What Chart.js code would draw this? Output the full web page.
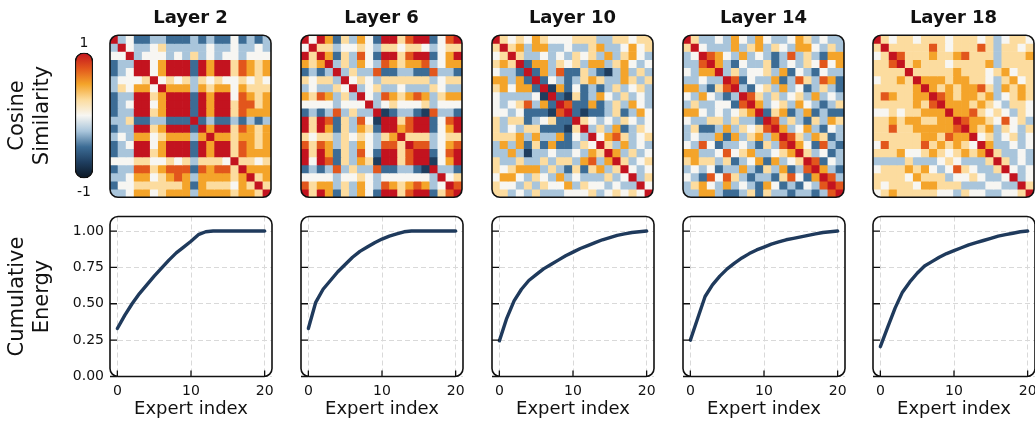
<!DOCTYPE html>
<html>
<head>
<meta charset="utf-8">
<script src="https://cdn.jsdelivr.net/npm/chart.js@4.4.1/dist/chart.umd.min.js"></script>
<style>
  body { margin: 0; background: #fff; width: 1035px; height: 422px; overflow: hidden; position: relative; }
  canvas { position: absolute; }
</style>
</head>
<body>
<script>
// ---- data ----
const layerNames = ['Layer 2', 'Layer 6', 'Layer 10', 'Layer 14', 'Layer 18'];
const experts = [0, 1, 2, 3, 4, 5, 6, 7, 8, 9, 10, 11, 12, 13, 14, 15, 16, 17, 18, 19];
const expertIndex = [0, 1, 2, 3, 4, 5, 6, 7, 8, 9, 10, 11, 12, 13, 14, 15, 16, 17, 18, 19, 20];
const expertTicks = [0, 10, 20];
const energyTicks = [0, 0.25, 0.5, 0.75, 1];

// cosine similarity, one digit per cell: 1 = -1 ... 5 = 0 ... 9 = +1
// '.' = mirror of the upper triangle (matrix is symmetric)
const layer2Sim = [
  '94533443334343353434',
  '49544564444454454454',
  '55945554546454554555',
  '34499579993979968767',
  '34599579993979968767',
  '45556956564656556565',
  '46577597774767757666',
  '34499679993979958767',
  '34599579993979968867',
  '34499679993979968777',
  '44633443339343343434',
  '34499679993979968767',
  '45477567774797767767',
  '34599579993979968767',
  '34499679993979968777',
  '55566556564666596656',
  '34488678883878869777',
  '44577567874777767967',
  '35566666673766657696',
  '44577567774777767769'
];
const layer6Sim = [
  '95973647539968993589',
  '59664556546656654566',
  '96973648539968993579',
  '76794647548767784577',
  '34349464483344338443',
  '65664956546666664566',
  '45446594564454446544',
  '76874649548767874677',
  '55554555945655564555',
  '34348464492344328443',
  '96983648529968993589',
  '96973647639978993579',
  '65664656546796664566',
  '86874647548869884578',
  '96973648539968993589',
  '95983647629968992579',
  '34348464483344329443',
  '55554556545555554956',
  '86774647548767874598',
  '96973647539968993689'
];
const layer10Sim = [
  '96565765556664466566',
  '.9674774454467445756',
  '..964454546564746754',
  '...93774656477467545',
  '....9374833643247464',
  '.....935434676447646',
  '......92735343464564',
  '.......9326347546454',
  '........983373464754',
  '.........93233463475',
  '..........9654546545',
  '...........946473465',
  '............95786456',
  '.............9647454',
  '..............974645',
  '...............96456',
  '................9545',
  '.................946',
  '..................95',
  '...................9'
];
const layer14Sim = [
  '96445475475445764544',
  '.9544474674654775464',
  '..987547454348464377',
  '...97435446345465857',
  '....9464556473543544',
  '.....983544734864873',
  '......94356474534643',
  '.......9864645647454',
  '........974564754346',
  '.........93673473433',
  '..........9846436476',
  '...........974574354',
  '............98647634',
  '.............9753843',
  '..............964534',
  '...............98354',
  '................9743',
  '.................984',
  '..................98',
  '...................9'
];
const layer18Sim = [
  '96566566656665645665',
  '.9666668656668646656',
  '..986667667866646667',
  '...96766656666746666',
  '....9666667666567566',
  '.....977767766546756',
  '......97676778647676',
  '.......9876776745676',
  '........977767654665',
  '.........97786565465',
  '..........9877658564',
  '...........976746546',
  '............95645645',
  '.............9744545',
  '..............964454',
  '...............96454',
  '................9545',
  '.................945',
  '..................96',
  '...................9'
];

const energy2  = [0.33, 0.42, 0.50, 0.57, 0.63, 0.69, 0.745, 0.80, 0.85, 0.89, 0.93, 0.975, 0.995, 1.0, 1.0, 1.0, 1.0, 1.0, 1.0, 1.0, 1.0];
const energy6  = [0.33, 0.51, 0.60, 0.66, 0.72, 0.77, 0.82, 0.86, 0.89, 0.92, 0.945, 0.965, 0.98, 0.995, 1.0, 1.0, 1.0, 1.0, 1.0, 1.0, 1.0];
const energy10 = [0.245, 0.40, 0.52, 0.60, 0.66, 0.70, 0.74, 0.77, 0.80, 0.83, 0.855, 0.88, 0.90, 0.92, 0.94, 0.955, 0.97, 0.98, 0.99, 0.995, 1.0];
const energy14 = [0.25, 0.40, 0.55, 0.63, 0.69, 0.74, 0.78, 0.815, 0.845, 0.87, 0.89, 0.91, 0.925, 0.94, 0.95, 0.96, 0.97, 0.98, 0.99, 0.995, 1.0];
const energy18 = [0.205, 0.34, 0.47, 0.58, 0.65, 0.71, 0.76, 0.79, 0.82, 0.845, 0.865, 0.885, 0.905, 0.92, 0.935, 0.95, 0.965, 0.975, 0.985, 0.995, 1.0];

const simLayers = [layer2Sim, layer6Sim, layer10Sim, layer14Sim, layer18Sim];
const energyLayers = [energy2, energy6, energy10, energy14, energy18];

// colormap
const simStops  = [-1, -0.75, -0.5, -0.25, 0, 0.25, 0.5, 0.75, 1];
const simColors = ['#0b1622', '#1e3d5e', '#3c6c95', '#a9c5db', '#f7f6f2', '#fcdc9f', '#f4a42a', '#e2561c', '#c3131f'];

// ---- layout ----
const panelLeft = [110, 301, 492, 683, 873];
const INK = '#111';
const LINE = '#1f3a5c';

Chart.defaults.font.family = '"DejaVu Sans", sans-serif';
Chart.defaults.color = INK;
Chart.defaults.animation = false;

function simValue(rows, i, j) {
  let ch = rows[i][j];
  if (ch === '.' || ch === undefined) ch = rows[j][i];
  return (Number(ch) - 5) / 4;
}
function colorFor(v) {
  return simColors[Math.round((v + 1) * 4)];
}

function addCanvas(left, top, w, h) {
  const c = document.createElement('canvas');
  c.width = w; c.height = h;
  c.style.left = left + 'px'; c.style.top = top + 'px';
  c.style.width = w + 'px'; c.style.height = h + 'px';
  document.body.appendChild(c);
  return c;
}

// rounded frame + clipping + inward ticks
const frame = {
  id: 'frame',
  beforeDatasetsDraw(chart, args, opts) {
    if (!opts.on) return;
    const a = chart.chartArea, c = chart.ctx;
    c.save();
    c.beginPath();
    c.roundRect(a.left, a.top, a.right - a.left, a.bottom - a.top, 8);
    c.clip();
  },
  afterDatasetsDraw(chart, args, opts) {
    if (!opts.on) return;
    chart.ctx.restore();
  },
  afterDraw(chart, args, opts) {
    if (!opts.on) return;
    const a = chart.chartArea, c = chart.ctx;
    c.save();
    c.strokeStyle = INK;
    if (opts.ticks) {
      const xs = chart.scales.x, ys = chart.scales.y;
      c.lineWidth = 1.3;
      c.beginPath();
      expertTicks.forEach(v => {
        const px = xs.getPixelForValue(v);
        c.moveTo(px, a.bottom); c.lineTo(px, a.bottom - 6);
      });
      energyTicks.forEach(v => {
        const py = ys.getPixelForValue(v);
        c.moveTo(a.left, py); c.lineTo(a.left + 7, py);
      });
      c.stroke();
    }
    c.lineWidth = 1.6;
    c.beginPath();
    c.roundRect(a.left, a.top, a.right - a.left, a.bottom - a.top, 8);
    c.stroke();
    c.restore();
  }
};
Chart.register(frame);

// ---- colorbar ----
function cbarGradient(chart) {
  const y = chart.scales.y;
  if (!y) return simColors[4];
  const y0 = y.getPixelForValue(-1), y1 = y.getPixelForValue(1);
  if (!isFinite(y0) || !isFinite(y1) || y0 === y1) return simColors[4];
  const g = chart.ctx.createLinearGradient(0, y0, 0, y1);
  simStops.forEach((v, k) => g.addColorStop((v + 1) / 2, simColors[k]));
  return g;
}
const hiddenAxis = { grid: { display: false }, border: { display: false }, ticks: { display: false } };
new Chart(addCanvas(0, 30, 100, 172), {
  type: 'bar',
  data: {
    labels: [''],
    datasets: [{
      data: [[-1, 1]],
      backgroundColor: ctx => cbarGradient(ctx.chart),
      borderColor: INK, borderWidth: 1.5, borderRadius: 9, borderSkipped: false,
      barPercentage: 1, categoryPercentage: 1
    }]
  },
  options: {
    responsive: false,
    layout: { padding: { left: 0, right: 7, top: 0, bottom: 0 } },
    plugins: { legend: { display: false }, tooltip: { enabled: false }, frame: { on: false } },
    scales: {
      x: { ...hiddenAxis, position: 'bottom', afterFit: s => { s.height = 23.7; },
           title: { display: true, text: '-1', font: { size: 14 }, padding: { top: 0, bottom: 1.6 } } },
      x2: { ...hiddenAxis, type: 'category', labels: [''], position: 'top', afterFit: s => { s.height = 22.7; },
            title: { display: true, text: '1', font: { size: 14 }, padding: { top: 4.6, bottom: 0 } } },
      y: { ...hiddenAxis, min: -1, max: 1, afterFit: s => { s.width = 75; },
           title: { display: true, text: ['Cosine', 'Similarity'], font: { size: 21, lineHeight: 1.2 }, padding: { top: 5, bottom: 0 } } }
    }
  }
});

// ---- heatmaps ----
simLayers.forEach((rows, k) => {
  const datasets = rows.map((r, i) => ({
    data: experts.map(() => 1),
    backgroundColor: experts.map(j => colorFor(simValue(rows, i, j))),
    borderWidth: 0, barPercentage: 1, categoryPercentage: 1
  }));
  new Chart(addCanvas(panelLeft[k] - 2, 0, 165, 200), {
    type: 'bar',
    data: { labels: experts, datasets },
    options: {
      responsive: false,
      layout: { padding: { left: 2, right: 2, top: 0, bottom: 2.7 } },
      plugins: {
        legend: { display: false }, tooltip: { enabled: false },
        title: { display: true, text: layerNames[k], color: INK, font: { size: 18, weight: 'bold' }, padding: { top: 7.2, bottom: 6.5 } },
        frame: { on: true, ticks: false }
      },
      scales: {
        x: { stacked: true, display: false },
        y: { stacked: true, display: false, reverse: true, min: 0, max: 20 }
      }
    }
  });
});

// ---- cumulative energy ----
energyLayers.forEach((energy, k) => {
  const first = k === 0;
  const gridStyle = { color: '#d9d9d9', lineWidth: 1, drawTicks: false };
  const left = first ? 0 : panelLeft[k] - 2;
  const width = first ? panelLeft[0] + 162 + 2 : 166;
  new Chart(addCanvas(left, 214, width, 208), {
    type: 'line',
    data: {
      datasets: [{
        data: expertIndex.map((x, i) => ({ x, y: energy[i] })),
        borderColor: LINE, borderWidth: 3.4, pointRadius: 0, tension: 0,
        borderCapStyle: 'round', borderJoinStyle: 'round'
      }]
    },
    options: {
      responsive: false,
      layout: { padding: { left: first ? 0 : 2, right: 2, top: 2.5, bottom: 0 } },
      plugins: { legend: { display: false }, tooltip: { enabled: false }, frame: { on: true, ticks: true } },
      scales: {
        x: {
          type: 'linear', min: -1, max: 21,
          afterBuildTicks: s => { s.ticks = expertTicks.map(v => ({ value: v })); },
          afterFit: s => { s.height = 45.5; s.paddingLeft = 0; s.paddingRight = 0; },
          grid: gridStyle, border: { display: false, dash: [5, 3] },
          ticks: { padding: 6, font: { size: 14 }, color: INK },
          title: { display: true, text: 'Expert index', color: INK, font: { size: 18 }, padding: { top: 0, bottom: 2 } }
        },
        y: {
          min: 0, max: 1.1,
          afterBuildTicks: s => { s.ticks = energyTicks.map(v => ({ value: v })); },
          afterFit: s => { s.width = first ? 110 : 0; s.paddingTop = 0; s.paddingBottom = 0; },
          grid: gridStyle, border: { display: false, dash: [5, 3] },
          ticks: { display: first, padding: 6, font: { size: 14 }, color: INK, callback: v => v.toFixed(2) },
          title: { display: first, text: ['Cumulative', 'Energy'], color: INK, font: { size: 21, lineHeight: 1.2 }, padding: { top: 4.5, bottom: 0 } }
        }
      }
    }
  });
});
</script>
</body>
</html>
